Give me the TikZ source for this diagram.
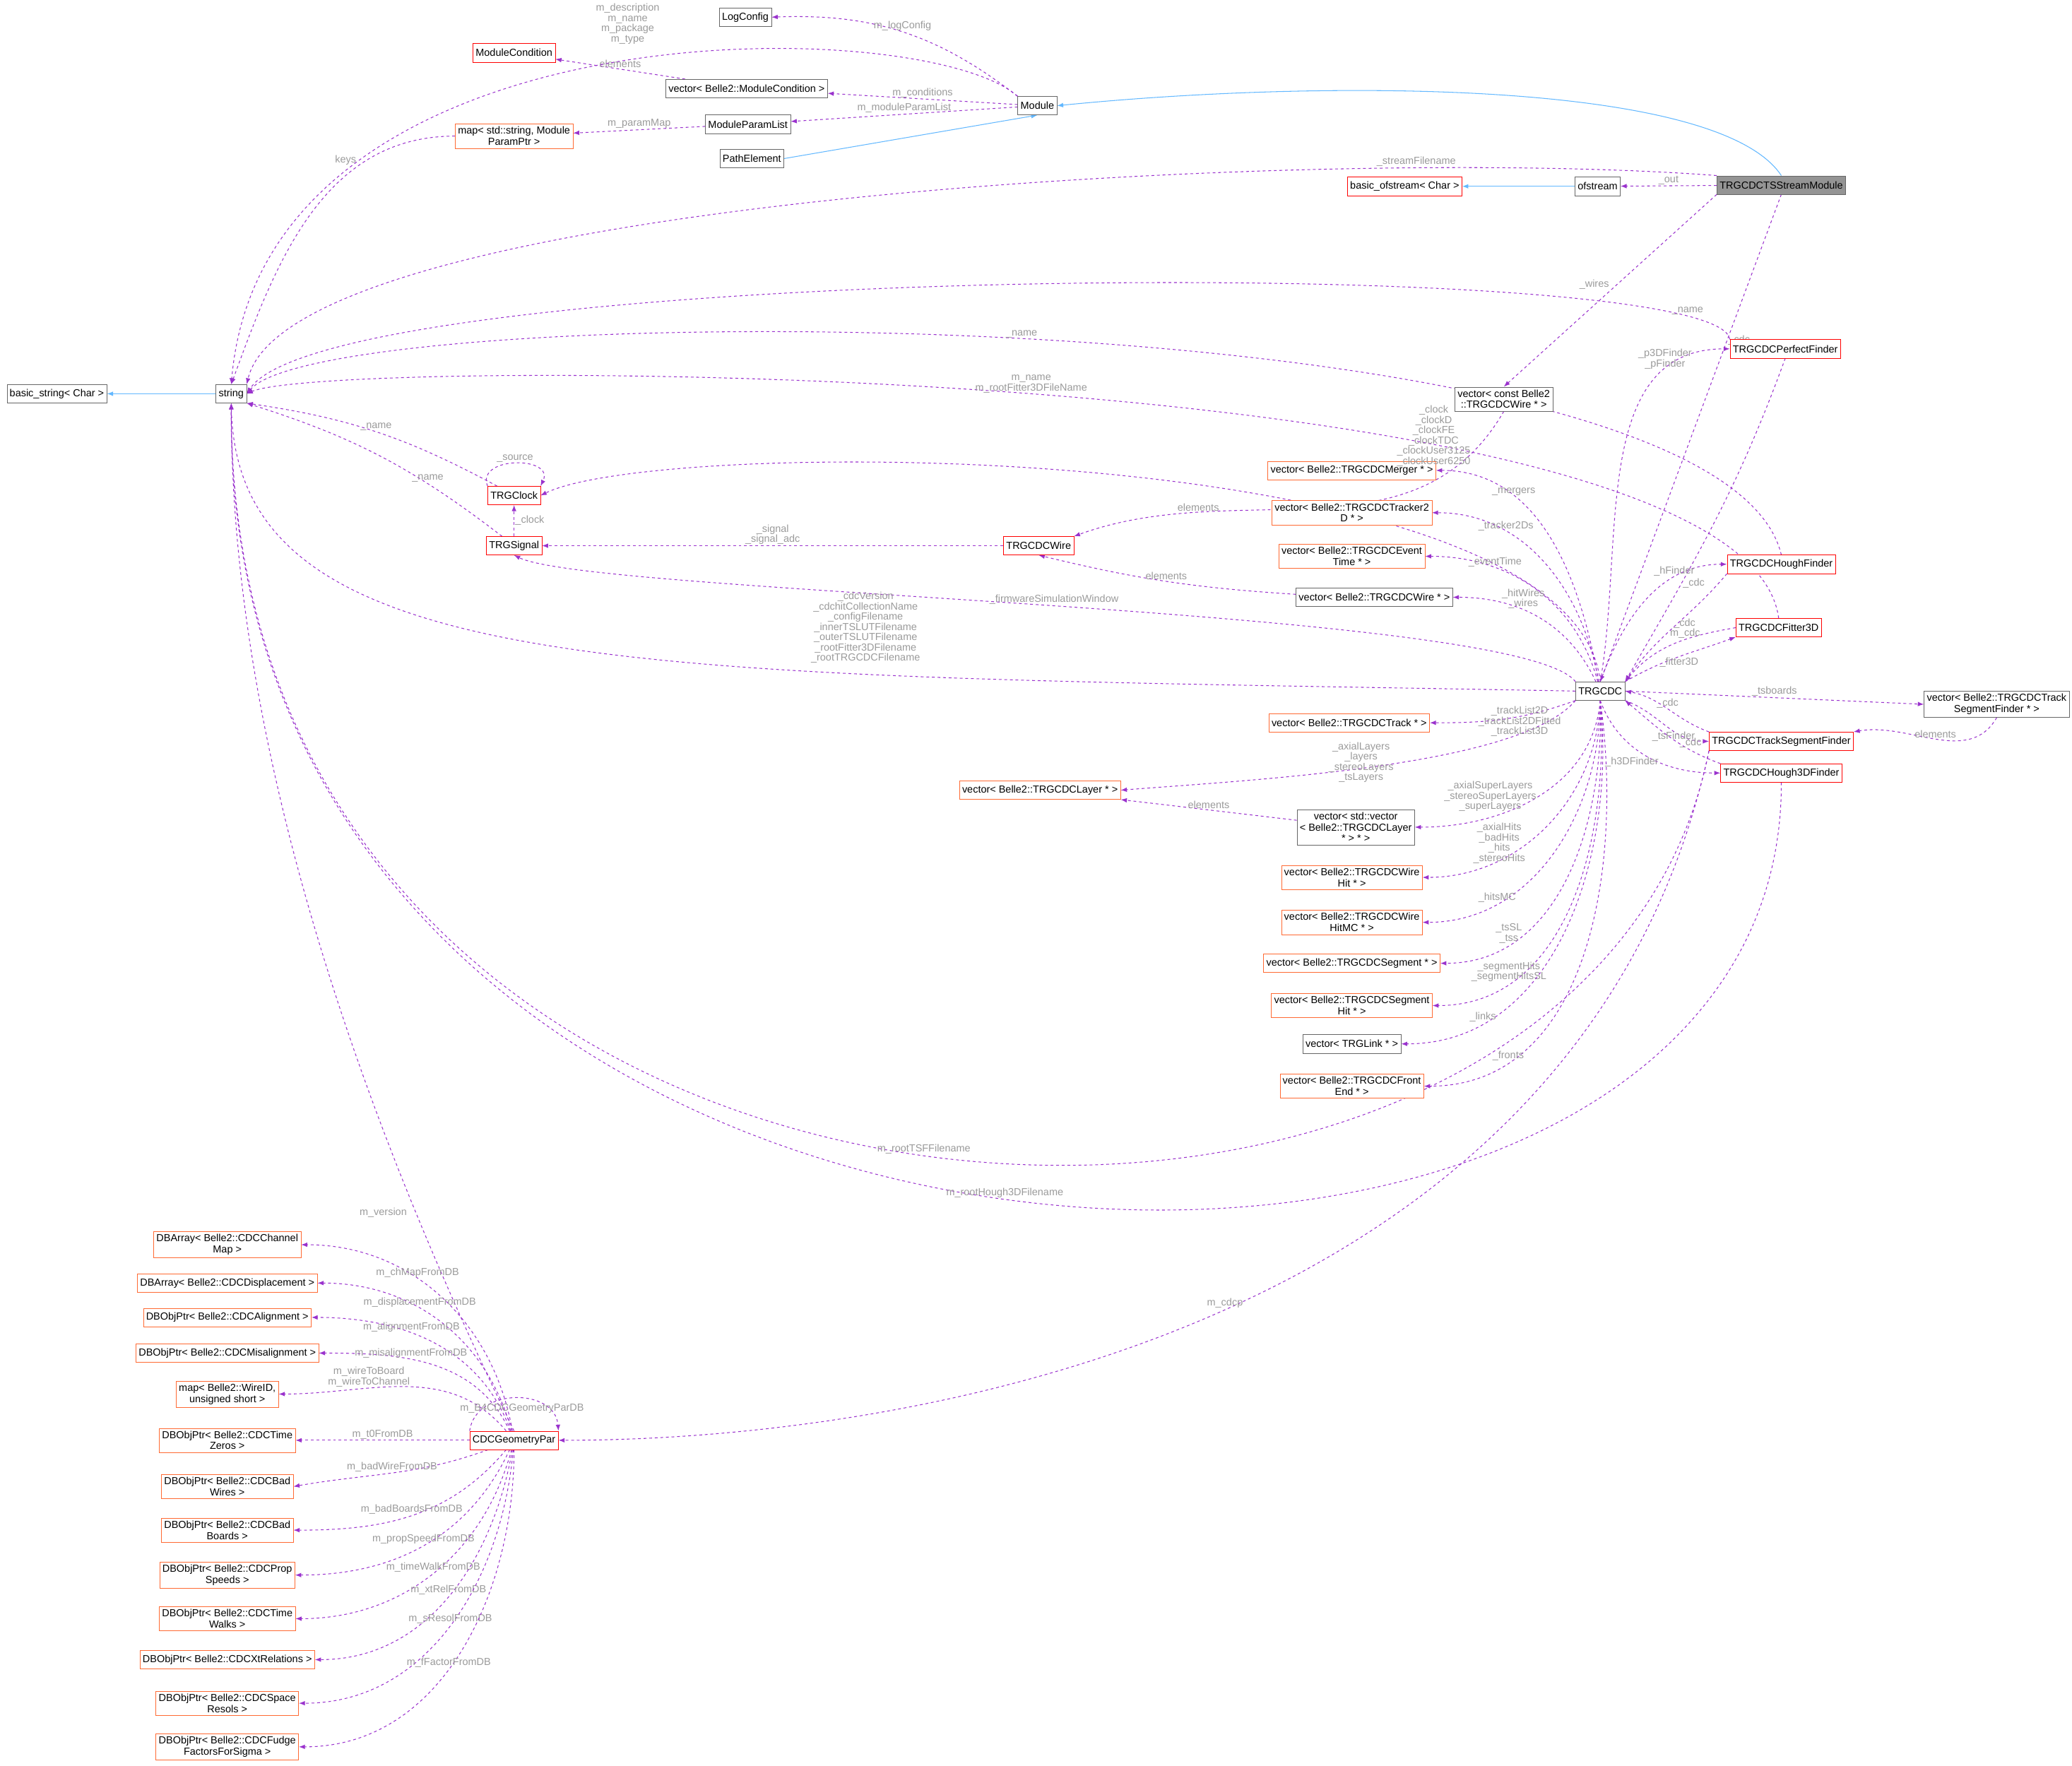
\documentclass[tikz,border=0pt]{standalone}
\usepackage{fontspec}
\setmainfont{Liberation Sans}
\usetikzlibrary{arrows.meta}
\usetikzlibrary{backgrounds}
\definecolor{dep}{HTML}{9A32CD}
\definecolor{inh}{HTML}{63B8FF}
\definecolor{lbl}{HTML}{9A9A9A}
\definecolor{borange}{HTML}{FF6A33}
\tikzset{>=Latex}
\tikzstyle{cls} = [draw=black!60, fill=white, font=\fontsize{11}{12}\selectfont, align=center, inner sep=3pt, minimum height=0.7cm]
\tikzstyle{clsred} = [cls, draw=red]
\tikzstyle{clsor} = [cls, draw=borange]
\tikzstyle{clsmain} = [cls, fill=black!42]
\tikzstyle{use} = [->, dashed, dep, thick]
\tikzstyle{isa} = [<-, inh, thick]
\tikzstyle{lab} = [text=lbl, font=\fontsize{11}{11}\selectfont, align=center, inner sep=1pt]
\begin{document}
\begin{tikzpicture}[x=0.05cm, y=-0.05cm]
\useasboundingbox (0,0) rectangle (1568,1336);
% top row
\node [cls] (LC) at (564,13) {LogConfig};
\node [clsred] (MC) at (389,40) {ModuleCondition};
\node [cls] (VMC) at (565,67) {vector< Belle2::ModuleCondition >};
\node [cls] (Mod) at (785,80) {Module};
\node [clsor] (MP) at (389,103) {map< std::string, Module\\ParamPtr >};
\node [cls] (MPL) at (566,94) {ModuleParamList};
\node [cls] (PE) at (569,120) {PathElement};
\node [clsmain] (TSS) at (1348,140) {TRGCDCTSStreamModule};
\node [clsred] (BOF) at (1063,141) {basic\_ofstream< Char >};
\node [cls] (OF) at (1209,141) {ofstream};
\node [cls] (BS) at (43,298) {basic\_string< Char >};
\node [cls] (Str) at (175,298) {string};
\node [clsred] (Clk) at (389,375) {TRGClock};
\node [clsred] (Sig) at (389,413) {TRGSignal};
\node [clsred] (Wire) at (786,413) {TRGCDCWire};
\node [cls] (VCW) at (1138,302) {vector< const Belle2\\::TRGCDCWire * >};
\node [clsred] (PF) at (1351,264) {TRGCDCPerfectFinder};
\node [clsor] (VMg) at (1023,356) {vector< Belle2::TRGCDCMerger * >};
\node [clsor] (VT2) at (1023,388) {vector< Belle2::TRGCDCTracker2\\D * >};
\node [clsor] (VET) at (1023,421) {vector< Belle2::TRGCDCEvent\\Time * >};
\node [cls] (VW) at (1040,452) {vector< Belle2::TRGCDCWire * >};
\node [clsred] (HF) at (1348,427) {TRGCDCHoughFinder};
\node [clsred] (F3) at (1346,475) {TRGCDCFitter3D};
\node [cls] (CDC) at (1211,523) {TRGCDC};
\node [cls] (VTSF) at (1511,533) {vector< Belle2::TRGCDCTrack\\SegmentFinder * >};
\node [clsred] (TSF) at (1348,561) {TRGCDCTrackSegmentFinder};
\node [clsred] (H3) at (1348,585) {TRGCDCHough3DFinder};
\node [clsor] (VTr) at (1021,547) {vector< Belle2::TRGCDCTrack * >};
\node [clsor] (VL) at (787,598) {vector< Belle2::TRGCDCLayer * >};
\node [cls] (VVL) at (1026,626) {vector< std::vector\\< Belle2::TRGCDCLayer\\ * > * >};
\node [clsor] (VWH) at (1023,664) {vector< Belle2::TRGCDCWire\\Hit * >};
\node [clsor] (VWM) at (1023,698) {vector< Belle2::TRGCDCWire\\HitMC * >};
\node [clsor] (VSg) at (1023,729) {vector< Belle2::TRGCDCSegment * >};
\node [clsor] (VSH) at (1023,761) {vector< Belle2::TRGCDCSegment\\Hit * >};
\node [cls] (VLk) at (1023,790) {vector< TRGLink * >};
\node [clsor] (VFE) at (1023,822) {vector< Belle2::TRGCDCFront\\End * >};
% geometry
\node [clsred] (Geo) at (389,1090) {CDCGeometryPar};
\node [clsor] (D1) at (172,942) {DBArray< Belle2::CDCChannel\\Map >};
\node [clsor] (D2) at (172,971) {DBArray< Belle2::CDCDisplacement >};
\node [clsor] (D3) at (172,997) {DBObjPtr< Belle2::CDCAlignment >};
\node [clsor] (D4) at (172,1024) {DBObjPtr< Belle2::CDCMisalignment >};
\node [clsor] (D5) at (172,1055) {map< Belle2::WireID,\\unsigned short >};
\node [clsor] (D6) at (172,1090) {DBObjPtr< Belle2::CDCTime\\Zeros >};
\node [clsor] (D7) at (172,1125) {DBObjPtr< Belle2::CDCBad\\Wires >};
\node [clsor] (D8) at (172,1158) {DBObjPtr< Belle2::CDCBad\\Boards >};
\node [clsor] (D9) at (172,1192) {DBObjPtr< Belle2::CDCProp\\Speeds >};
\node [clsor] (D10) at (172,1225) {DBObjPtr< Belle2::CDCTime\\Walks >};
\node [clsor] (D11) at (172,1256) {DBObjPtr< Belle2::CDCXtRelations >};
\node [clsor] (D12) at (172,1289) {DBObjPtr< Belle2::CDCSpace\\Resols >};
\node [clsor] (D13) at (172,1322) {DBObjPtr< Belle2::CDCFudge\\FactorsForSigma >};
\begin{pgfonlayer}{background}
% inheritance
\draw [isa] (Mod.east) .. controls (1000,60) and (1300,60) .. (TSS.north);
\draw [isa] (Mod.south) -- (PE.east);
\draw [isa] (BOF) -- (OF);
\draw [isa] (BS) -- (Str);
% module usage
\draw [use] (Mod.north west) to[bend right=20] node [lab, pos=0.5, above] {m\_logConfig} (LC.east);
\draw [use] (Mod) -- node [lab, above] {m\_conditions} (VMC);
\draw [use] (VMC) -- node [lab, above] {elements} (MC);
\draw [use] (Mod) -- node [lab, above] {m\_moduleParamList} (MPL);
\draw [use] (MPL) -- node [lab, above] {m\_paramMap} (MP);
\draw [use] (MP.west) to[out=180,in=70] node [lab, pos=0.3, above left] {keys} (Str.north);
\draw [use] (Mod.north west) .. controls (700,10) and (200,0) .. (Str.north);
% stream module
\draw [use] (TSS) -- node [lab, above] {\_out} (OF);
\draw [use] (TSS.north west) .. controls (1000,110) and (220,150) .. node [lab, pos=0.2, above] {\_streamFilename} (Str.north east);
\draw [use] (TSS.south west) -- node [lab, pos=0.5, above left] {\_wires} (VCW.north);
\draw [use] (TSS.south) -- node [lab, pos=0.3, right] {\_cdc} (CDC.north);
% finders to string
\draw [use] (PF.north west) .. controls (1300,190) and (250,200) .. node [lab, pos=0.1, above] {\_name} (Str.east);
\draw [use] (HF.north) .. controls (1300,220) and (250,225) .. node [lab, pos=0.5, above] {\_name} (Str.east);
\draw [use] (F3.north) .. controls (1320,270) and (250,270) .. node [lab, pos=0.5, above] {m\_name\\m\_rootFitter3DFileName} (Str.east);
% clock, signal, wire
\draw [use] (Clk) to[bend right=10] node [lab, above] {\_name} (Str.south east);
\draw [use] (Clk.north west) .. controls (360,345) and (420,345) .. node [lab, above] {\_source} (Clk.north east);
\draw [use] (Sig) to[bend right=10] node [lab, above, pos=0.3] {\_name} (Str.south east);
\draw [use] (Sig) -- node [lab, right] {\_clock} (Clk);
\draw [use] (Wire) -- node [lab, above] {\_signal\\\_signal\_adc} (Sig);
\draw [use] (VCW.south) to[out=-120,in=20] node [lab, pos=0.75, above] {elements} (Wire.north east);
\draw [use] (VW) to[bend left=5] node [lab, above] {elements} (Wire.south);
% TRGCDC usage
\draw [use] (CDC.north) .. controls (1190,330) and (500,330) .. (Clk.east);
\draw [use] (CDC.north west) .. controls (1150,460) and (450,450) .. node [lab, pos=0.5, above] {\_firmwareSimulationWindow} (Sig.south);
\draw [use] (CDC.west) .. controls (500,510) and (180,520) .. (Str.south);
\draw [use] (CDC) to[out=100,in=0] node [lab, above, pos=0.7] {\_mergers} (VMg.east);
\draw [use] (CDC) to[out=100,in=0] node [lab, above, pos=0.7] {\_tracker2Ds} (VT2.east);
\draw [use] (CDC) to[out=105,in=0] node [lab, above, pos=0.7] {\_eventTime} (VET.east);
\draw [use] (CDC) to[out=115,in=0] node [lab, above, pos=0.6] {\_hitWires\\\_wires} (VW.east);
\draw [use] (CDC.south west) to[out=200,in=0] (VTr.east);
\draw [use] (CDC.south west) .. controls (1150,580) and (950,590) .. (VL.east);
\draw [use] (VVL) -- node [lab, above] {elements} (VL);
\draw [use] (CDC.south) to[out=-95,in=0] node [lab, pos=0.5, left] {\_axialSuperLayers\\\_stereoSuperLayers\\\_superLayers} (VVL.east);
\draw [use] (CDC.south) to[out=-92,in=0] node [lab, pos=0.6, left] {\_axialHits\\\_badHits\\\_hits\\\_stereoHits} (VWH.east);
\draw [use] (CDC.south) to[out=-90,in=0] node [lab, pos=0.75, above] {\_hitsMC} (VWM.east);
\draw [use] (CDC.south) to[out=-88,in=0] node [lab, pos=0.78, above] {\_tsSL\\\_tss} (VSg.east);
\draw [use] (CDC.south) to[out=-86,in=0] node [lab, pos=0.78, above] {\_segmentHits\\\_segmentHitsSL} (VSH.east);
\draw [use] (CDC.south) to[out=-84,in=0] node [lab, pos=0.8, above] {\_links} (VLk.east);
\draw [use] (CDC.south) to[out=-82,in=0] node [lab, pos=0.8, above] {\_fronts} (VFE.east);
% finders
\draw [use] (CDC.north) to[out=80,in=180] node [lab, pos=0.8, above] {\_p3DFinder\\\_pFinder} (PF.west);
\draw [use] (PF.south) to[out=-110,in=60] node [lab, pos=0.7, right] {\_cdc} (CDC.north east);
\draw [use] (CDC.north) to[out=70,in=180] node [lab, pos=0.7, above] {\_hFinder} (HF.west);
\draw [use] (HF.south west) to[out=-130,in=55] node [lab, pos=0.4, below] {\_cdc} (CDC.north east);
\draw [use] (CDC.north east) to[out=30,in=200] node [lab, pos=0.5, below] {\_fitter3D} (F3.south west);
\draw [use] (F3.west) to[out=190,in=50] node [lab, pos=0.4, above] {m\_cdc} (CDC.north east);
\draw [use] (CDC.east) -- node [lab, above] {\_tsboards} (VTSF.west);
\draw [use] (VTSF.south) to[out=-120,in=10] node [lab, above] {elements} (TSF.north east);
\draw [use] (CDC.south east) to[out=-20,in=180] node [lab, pos=0.6, below] {\_tsFinder} (TSF.west);
\draw [use] (TSF.north west) to[out=160,in=-10] node [lab, above] {\_cdc} (CDC.east);
\draw [use] (CDC.south) to[out=-70,in=180] node [lab, pos=0.6, left] {\_h3DFinder} (H3.west);
\draw [use] (H3.north west) to[out=160,in=-40] node [lab, pos=0.4, right] {\_cdc} (CDC.south east);
% long ones
\draw [use] (TSF.south west) .. controls (1200,1040) and (175,1000) .. node [lab, pos=0.5, above] {m\_rootTSFFilename} (Str.south);
\draw [use] (H3.south) .. controls (1350,1080) and (170,1040) .. node [lab, pos=0.5, above] {m\_rootHough3DFilename} (Str.south);
\draw [use] (TSF.south west) .. controls (1200,1000) and (700,1090) .. node [lab, pos=0.5, above] {m\_cdcp} (Geo.east);
% geometry
\draw [use] (Geo.north) .. controls (300,900) and (175,600) .. (Str.south);
\draw [use] (Geo.north west) .. controls (360,1050) and (420,1050) .. (Geo.north east);
\draw [use] (Geo) to[out=100,in=0] node [lab, pos=0.6, above] {m\_chMapFromDB} (D1.east);
\draw [use] (Geo) to[out=105,in=0] node [lab, pos=0.6, above] {m\_displacementFromDB} (D2.east);
\draw [use] (Geo) to[out=110,in=0] node [lab, pos=0.6, above] {m\_alignmentFromDB} (D3.east);
\draw [use] (Geo) to[out=115,in=0] node [lab, pos=0.6, above] {m\_misalignmentFromDB} (D4.east);
\draw [use] (Geo) to[out=130,in=0] node [lab, pos=0.65, above] {m\_wireToBoard\\m\_wireToChannel} (D5.east);
\draw [use] (Geo) -- node [lab, above] {m\_t0FromDB} (D6.east);
\draw [use] (Geo) to[out=-160,in=10] node [lab, pos=0.5, above] {m\_badWireFromDB} (D7.east);
\draw [use] (Geo) to[out=-130,in=0] node [lab, pos=0.5, above] {m\_badBoardsFromDB} (D8.east);
\draw [use] (Geo) to[out=-115,in=0] node [lab, pos=0.5, above] {m\_propSpeedFromDB} (D9.east);
\draw [use] (Geo) to[out=-105,in=0] node [lab, pos=0.5, above] {m\_timeWalkFromDB} (D10.east);
\draw [use] (Geo) to[out=-100,in=0] node [lab, pos=0.5, above] {m\_xtRelFromDB} (D11.east);
\draw [use] (Geo) to[out=-95,in=0] node [lab, pos=0.5, above] {m\_sResolFromDB} (D12.east);
\draw [use] (Geo) to[out=-90,in=0] node [lab, pos=0.55, above] {m\_fFactorFromDB} (D13.east);
\end{pgfonlayer}
% free labels
\node [lab] at (475,18) {m\_description\\m\_name\\m\_package\\m\_type};
\node [lab] at (1085,330) {\_clock\\\_clockD\\\_clockFE\\\_clockTDC\\\_clockUser3125\\\_clockUser6250};
\node [lab] at (655,475) {\_cdcVersion\\\_cdchitCollectionName\\\_configFilename\\\_innerTSLUTFilename\\\_outerTSLUTFilename\\\_rootFitter3DFilename\\\_rootTRGCDCFilename};
\node [lab] at (1150,546) {\_trackList2D\\\_trackList2DFitted\\\_trackList3D};
\node [lab] at (1030,577) {\_axialLayers\\\_layers\\\_stereoLayers\\\_tsLayers};
\node [lab] at (290,918) {m\_version};
\node [lab] at (395,1066) {m\_B4CDCGeometryParDB};
\end{tikzpicture}
\end{document}
